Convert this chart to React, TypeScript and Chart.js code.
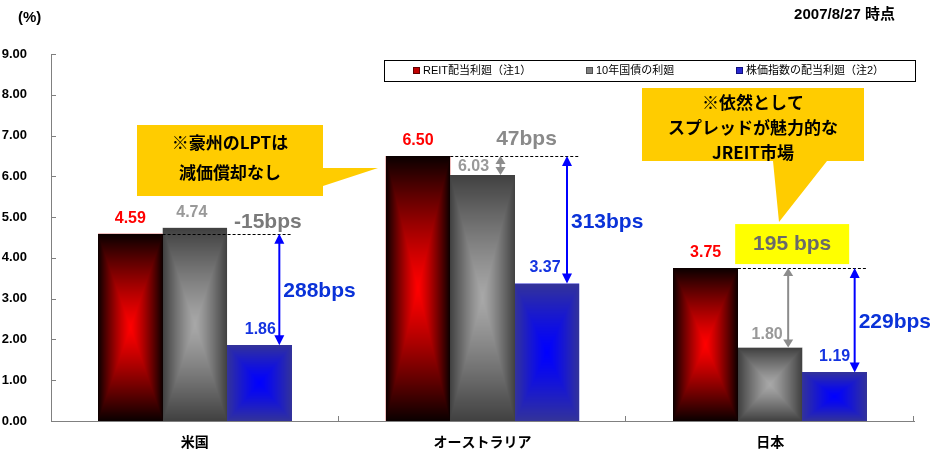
import React, { useEffect, useRef } from 'react';
import { Chart, registerables } from 'chart.js';

Chart.register(...registerables);

// ---------- data ----------
const categories = ['米国', 'オーストラリア', '日本'];
const reitYield = [4.59, 6.5, 3.75];
const bondYield = [4.74, 6.03, 1.8];
const stockYield = [1.86, 3.37, 1.19];
const seriesNames = ['REIT配当利廻（注1）', '10年国債の利廻', '株価指数の配当利廻（注2）'];
const bondSpreadLabels = ['-15bps', '47bps', '195 bps'];
const stockSpreadLabels = ['288bps', '313bps', '229bps'];
const yTickValues = [0, 1, 2, 3, 4, 5, 6, 7, 8, 9];
const unitLabel = '(%)';
const dateLabel = '2007/8/27 時点';
const calloutAus = ['※豪州のLPTは', '減価償却なし'];
const calloutJp = ['※依然として', 'スプレッドが魅力的な', 'JREIT市場'];

// ---------- styles ----------
const LATIN = "'Liberation Sans', Arial, 'Noto Sans CJK JP', sans-serif";
const JPF = "'Noto Sans CJK JP', 'Liberation Sans', sans-serif";
const legendFill = ['#c00000', '#808080', '#2828d0'];
const legendBorder = ['#600000', '#505050', '#101080'];
const gradientStops = [
  { edge: [10, 0, 0], center: [255, 0, 0] },
  { edge: [64, 64, 64], center: [168, 168, 168] },
  { edge: [51, 51, 153], center: [0, 0, 255] },
];
const valueLabelColors = ['#ff0000', '#999999', '#1433e0'];
const valueLabelDx = [[0, 0, 0], [-3, -9, -3], [1, -2, 0]];
const valueLabelDy = [[0, 0, 0], [0, 7, 2], [0, 0, 0]];
const blueArrowColor = '#0000ff';
const grayArrowColor = '#8c8c8c';
const blueTextColor = '#0a32d8';
const grayTextColors = ['#7a7a7a', '#8a8a8a', '#6a6a6a'];
const grayLabelDx = [73, 44, 22];
const grayLabelDy = [-12, -17, -24];
const grayLabelBoxed = [false, false, true];

function drawArrow(ctx: CanvasRenderingContext2D, x: number, y1: number, y2: number, color: string, lw: number, headL: number, headW: number) {
  const top = Math.min(y1, y2);
  const bot = Math.max(y1, y2);
  ctx.save();
  ctx.strokeStyle = color;
  ctx.fillStyle = color;
  ctx.lineWidth = lw;
  ctx.setLineDash([]);
  ctx.beginPath();
  ctx.moveTo(x, top + headL - 1);
  ctx.lineTo(x, bot - headL + 1);
  ctx.stroke();
  ctx.beginPath();
  ctx.moveTo(x, top);
  ctx.lineTo(x - headW, top + headL);
  ctx.lineTo(x + headW, top + headL);
  ctx.closePath();
  ctx.fill();
  ctx.beginPath();
  ctx.moveTo(x, bot);
  ctx.lineTo(x - headW, bot - headL);
  ctx.lineTo(x + headW, bot - headL);
  ctx.closePath();
  ctx.fill();
  ctx.restore();
}

const gradientBars = {
  id: 'gradientBars',
  afterDatasetsDraw(chart: any) {
    const ctx: CanvasRenderingContext2D = chart.ctx;
    chart.data.datasets.forEach((_ds: any, di: number) => {
      const meta = chart.getDatasetMeta(di);
      const g = gradientStops[di];
      meta.data.forEach((el: any) => {
        const { x, y, base, width } = el.getProps(['x', 'y', 'base', 'width'], true);
        const left = Math.round(x - width / 2);
        const right = Math.round(x + width / 2);
        const top = Math.round(Math.min(y, base));
        const bottom = Math.round(Math.max(y, base));
        const w = right - left;
        const h = bottom - top;
        if (w <= 0 || h <= 0) return;
        const off = document.createElement('canvas');
        off.width = w;
        off.height = h;
        const octx = off.getContext('2d')!;
        const img = octx.createImageData(w, h);
        const hw = w / 2;
        const hh = h / 2;
        for (let j = 0; j < h; j++) {
          for (let i = 0; i < w; i++) {
            const dx = Math.abs(i + 0.5 - hw) / hw;
            const dy = Math.abs(j + 0.5 - hh) / hh;
            const t = Math.pow(Math.max(dx, dy), 1.2);
            const k = (j * w + i) * 4;
            for (let c = 0; c < 3; c++) img.data[k + c] = g.center[c] + (g.edge[c] - g.center[c]) * t;
            img.data[k + 3] = 255;
          }
        }
        octx.putImageData(img, 0, 0);
        ctx.drawImage(off, left, top);
      });
    });
  },
};

const annotations = {
  id: 'annotations',
  afterDraw(chart: any) {
    const ctx: CanvasRenderingContext2D = chart.ctx;
    const xs = chart.scales.x;
    const ys = chart.scales.y;
    const py = (v: number) => ys.getPixelForValue(v);
    const bar = (di: number, i: number) => chart.getDatasetMeta(di).data[i];
    ctx.save();

    // inward ticks on axes
    ctx.strokeStyle = '#808080';
    ctx.lineWidth = 1;
    yTickValues.forEach((v) => {
      const y = Math.round(py(v)) + 0.5;
      ctx.beginPath();
      ctx.moveTo(xs.left, y);
      ctx.lineTo(xs.left + 5, y);
      ctx.stroke();
    });
    for (let k = 1; k <= categories.length; k++) {
      const x = Math.round(xs.left + (k * (xs.right - xs.left)) / categories.length) - 0.5;
      ctx.beginPath();
      ctx.moveTo(x, ys.bottom);
      ctx.lineTo(x, ys.bottom - 5);
      ctx.stroke();
    }

    // value labels
    const series = [reitYield, bondYield, stockYield];
    ctx.textAlign = 'center';
    ctx.textBaseline = 'middle';
    ctx.font = `bold 16px ${LATIN}`;
    series.forEach((vals, di) => {
      vals.forEach((v, i) => {
        const el = bar(di, i);
        ctx.fillStyle = valueLabelColors[di];
        ctx.fillText(v.toFixed(2), el.x + valueLabelDx[di][i], py(v) - 15.5 + valueLabelDy[di][i]);
      });
    });

    // spreads
    categories.forEach((_c, i) => {
      const gray = bar(1, i);
      const blue = bar(2, i);
      const reitY = py(reitYield[i]);
      const bondY = py(bondYield[i]);
      const stockY = py(stockYield[i]);
      // dashed reference line
      ctx.save();
      ctx.strokeStyle = '#000';
      ctx.lineWidth = 1;
      ctx.setLineDash([3, 2]);
      ctx.beginPath();
      ctx.moveTo(gray.x - gray.width / 2, Math.round(reitY) + 0.5);
      ctx.lineTo(blue.x + blue.width / 2, Math.round(reitY) + 0.5);
      ctx.stroke();
      ctx.restore();
      // blue spread arrow
      const ax = blue.x + 20;
      drawArrow(ctx, ax, reitY, stockY, blueArrowColor, 2, 10, 5);
      ctx.fillStyle = blueTextColor;
      ctx.font = `bold 21px ${LATIN}`;
      ctx.textAlign = 'left';
      ctx.fillText(stockSpreadLabels[i], ax + 4, (reitY + stockY) / 2 + 2);
      // gray spread arrow (only when bond below REIT)
      if (bondYield[i] < reitYield[i]) {
        const gx = gray.x + 18;
        drawArrow(ctx, gx, reitY, bondY, grayArrowColor, 2, 8, 5);
      }
      // gray spread label
      const lx = gray.x + grayLabelDx[i];
      const ly = reitY + grayLabelDy[i];
      if (grayLabelBoxed[i]) {
        ctx.fillStyle = '#ffff00';
        ctx.fillRect(lx - 57, ly - 20, 114, 40);
      }
      ctx.fillStyle = grayTextColors[i];
      ctx.textAlign = 'center';
      ctx.fillText(bondSpreadLabels[i], lx, ly);
    });

    // callouts
    ctx.fillStyle = '#ffcc00';
    ctx.beginPath();
    ctx.moveTo(137, 125);
    ctx.lineTo(323, 125);
    ctx.lineTo(323, 168);
    ctx.lineTo(378, 168);
    ctx.lineTo(323, 186);
    ctx.lineTo(323, 196);
    ctx.lineTo(137, 196);
    ctx.closePath();
    ctx.fill();
    ctx.beginPath();
    ctx.moveTo(642, 88);
    ctx.lineTo(864, 88);
    ctx.lineTo(864, 161);
    ctx.lineTo(827, 161);
    ctx.lineTo(779, 222);
    ctx.lineTo(773, 161);
    ctx.lineTo(642, 161);
    ctx.closePath();
    ctx.fill();
    ctx.fillStyle = '#000';
    ctx.font = `bold 17px ${JPF}`;
    ctx.textAlign = 'center';
    calloutAus.forEach((t, k) => ctx.fillText(t, 230, 143 + k * 30));
    calloutJp.forEach((t, k) => ctx.fillText(t, 753, 103 + k * 25));

    // legend
    ctx.strokeStyle = '#000';
    ctx.lineWidth = 1;
    ctx.strokeRect(384.5, 60.5, 531, 21);
    const legX = [413, 586, 736];
    ctx.font = `11px ${LATIN}`;
    ctx.textAlign = 'left';
    seriesNames.forEach((name, k) => {
      ctx.fillStyle = legendFill[k];
      ctx.fillRect(legX[k], 67, 7, 7);
      ctx.strokeStyle = legendBorder[k];
      ctx.strokeRect(legX[k] + 0.5, 67.5, 6, 6);
      ctx.fillStyle = '#000';
      ctx.fillText(name, legX[k] + 10, 71);
    });

    // header texts
    ctx.font = `bold 15px ${LATIN}`;
    ctx.fillStyle = '#000';
    ctx.textAlign = 'left';
    ctx.fillText(unitLabel, 18, 18);
    ctx.textAlign = 'right';
    ctx.fillText(dateLabel, 895, 15);
    ctx.restore();
  },
};

export default function App() {
  const ref = useRef<HTMLCanvasElement>(null);
  useEffect(() => {
    if (!ref.current) return;
    const chart = new Chart(ref.current, {
      type: 'bar',
      data: {
        labels: categories,
        datasets: [
          { label: seriesNames[0], data: reitYield, backgroundColor: legendFill[0], borderWidth: 0 },
          { label: seriesNames[1], data: bondYield, backgroundColor: legendFill[1], borderWidth: 0 },
          { label: seriesNames[2], data: stockYield, backgroundColor: legendFill[2], borderWidth: 0 },
        ],
      },
      options: {
        responsive: true,
        maintainAspectRatio: false,
        animation: false,
        layout: { padding: { top: 54, right: 16, left: 0, bottom: 0 } },
        datasets: { bar: { categoryPercentage: 0.6726, barPercentage: 1 } },
        plugins: { legend: { display: false }, tooltip: { enabled: false } },
        scales: {
          x: {
            grid: { display: false },
            border: { display: true, color: '#808080', width: 1 },
            ticks: { color: '#000', font: { family: JPF, size: 14, weight: 'bold' }, padding: 4 },
            afterFit: (s: any) => { s.height = 32; },
          },
          y: {
            min: 0,
            max: 9,
            grid: { display: false },
            border: { display: true, color: '#808080', width: 1 },
            ticks: {
              stepSize: 1,
              color: '#000',
              padding: 16,
              font: { family: LATIN, size: 13, weight: 'bold' },
              callback: (v: any) => Number(v).toFixed(2),
            },
            afterFit: (s: any) => { s.width = 51; },
          },
        },
      } as any,
      plugins: [gradientBars, annotations],
    });
    return () => chart.destroy();
  }, []);
  return (
    <div style={{ position: 'absolute', left: 0, top: 0, width: 930, height: 453, background: '#fff' }}>
      <canvas ref={ref} />
    </div>
  );
}
